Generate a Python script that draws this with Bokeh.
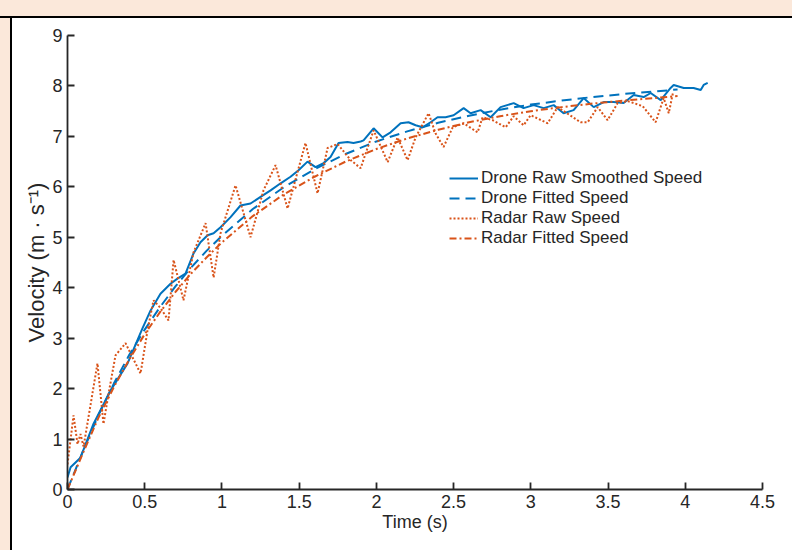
from bokeh.plotting import figure
from bokeh.models import FixedTicker, Legend
from bokeh.embed import file_html
from bokeh.resources import INLINE

# ---- data ----
drone_raw_t = [0, 0.02, 0.084, 0.168, 0.278, 0.389, 0.486, 0.538, 0.602, 0.667, 0.712, 0.764, 0.816,
               0.861, 0.907, 0.946, 0.991, 1.056, 1.12, 1.185, 1.25, 1.315, 1.38, 1.444, 1.496, 1.554,
               1.606, 1.658, 1.703, 1.755, 1.813, 1.852, 1.898, 1.917, 1.982, 2.04, 2.092, 2.157, 2.208,
               2.254, 2.299, 2.351, 2.396, 2.448, 2.5, 2.565, 2.61, 2.675, 2.74, 2.804, 2.889, 2.953,
               3.018, 3.083, 3.148, 3.212, 3.277, 3.342, 3.407, 3.472, 3.536, 3.601, 3.666, 3.731,
               3.776, 3.841, 3.905, 3.925, 3.99, 4.054, 4.1, 4.119, 4.145]
drone_raw_v = [0.24, 0.44, 0.63, 1.3, 1.96, 2.5, 3.2, 3.55, 3.88, 4.08, 4.18, 4.28, 4.68,
               4.9, 5.04, 5.08, 5.2, 5.4, 5.63, 5.67, 5.8, 5.93, 6.07, 6.2, 6.33, 6.5,
               6.39, 6.47, 6.59, 6.87, 6.89, 6.87, 6.9, 6.92, 7.16, 6.98, 7.08, 7.26, 7.28,
               7.22, 7.18, 7.28, 7.38, 7.38, 7.42, 7.56, 7.46, 7.52, 7.38, 7.58, 7.66, 7.56,
               7.62, 7.56, 7.62, 7.46, 7.52, 7.76, 7.58, 7.68, 7.68, 7.66, 7.82, 7.78,
               7.86, 7.72, 7.96, 8.02, 7.96, 7.96, 7.92, 8.02, 8.06]

fit_t = [0, 0.1, 0.2, 0.3, 0.4, 0.5, 0.6, 0.7, 0.8, 0.9, 1.0, 1.2, 1.4, 1.6, 1.8, 2.0,
         2.2, 2.4, 2.6, 2.8, 3.0, 3.2, 3.4, 3.6, 3.8, 3.95]
drone_fit_v = [0, 0.76, 1.47, 2.1, 2.67, 3.17, 3.62, 4.03, 4.4, 4.73, 5.03, 5.56, 5.99, 6.35, 6.65, 6.9,
               7.1, 7.27, 7.41, 7.53, 7.63, 7.71, 7.78, 7.84, 7.89, 7.93]
radar_fit_v = [0, 0.72, 1.42, 2.03, 2.58, 3.08, 3.52, 3.92, 4.28, 4.6, 4.9, 5.42, 5.85, 6.2, 6.5, 6.75,
               6.96, 7.13, 7.28, 7.4, 7.5, 7.58, 7.65, 7.71, 7.76, 7.8]

radar_raw_t = [0, 0.039, 0.065, 0.084, 0.104, 0.194, 0.233, 0.266, 0.311, 0.376, 0.408, 0.473, 0.518,
               0.557, 0.602, 0.654, 0.687, 0.751, 0.816, 0.894, 0.946, 0.991, 1.088, 1.185, 1.269,
               1.347, 1.425, 1.541, 1.619, 1.684, 1.749, 1.833, 1.898, 1.982, 2.073, 2.137, 2.202,
               2.254, 2.338, 2.383, 2.435, 2.494, 2.565, 2.655, 2.688, 2.753, 2.837, 2.889, 2.953,
               2.999, 3.109, 3.174, 3.238, 3.322, 3.368, 3.433, 3.497, 3.562, 3.627, 3.724, 3.808,
               3.86, 3.893, 3.92]
radar_raw_v = [0.5, 1.47, 0.9, 1.1, 0.85, 2.5, 1.3, 1.9, 2.66, 2.9, 2.7, 2.3, 3.15,
               3.75, 3.6, 3.35, 4.55, 3.75, 4.7, 5.28, 4.2, 5.08, 6.03, 5.0, 5.93,
               6.43, 5.57, 6.87, 5.87, 6.77, 6.85, 6.53, 6.37, 7.12, 6.49, 6.98, 6.53,
               6.98, 7.46, 7.06, 6.79, 7.18, 7.26, 7.08, 7.38, 7.32, 7.18, 7.4, 7.22,
               7.42, 7.26, 7.58, 7.45, 7.28, 7.28, 7.58, 7.32, 7.66, 7.7, 7.6, 7.28,
               7.76, 7.46, 7.86]

x_ticks = [0, 0.5, 1, 1.5, 2, 2.5, 3, 3.5, 4, 4.5]
x_tick_labels = ["0", "0.5", "1", "1.5", "2", "2.5", "3", "3.5", "4", "4.5"]
y_ticks = [0, 1, 2, 3, 4, 5, 6, 7, 8, 9]

labels = ["Drone Raw Smoothed Speed", "Drone Fitted Speed", "Radar Raw Speed", "Radar Fitted Speed"]

BLUE = "#0072BD"
ORANGE = "#D95319"
TXT = "#262626"
PEACH = "#fbe8da"
FONT = "Liberation Sans"

p = figure(width=792, height=550, output_backend="svg", toolbar_location=None,
           x_range=(0, 4.5), y_range=(0, 9),
           min_border_left=67, min_border_right=30, min_border_top=35, min_border_bottom=61)
p.outline_line_color = None
p.grid.visible = False
p.background_fill_color = "white"
p.border_fill_alpha = 0

r1 = p.line(drone_raw_t, drone_raw_v, line_color=BLUE, line_width=2)
r2 = p.line(fit_t, drone_fit_v, line_color=BLUE, line_width=2, line_dash="10 6")
r3 = p.line(radar_raw_t, radar_raw_v, line_color=ORANGE, line_width=2, line_dash="2 2")
r4 = p.line(fit_t, radar_fit_v, line_color=ORANGE, line_width=2, line_dash="7 3 2 3")

legend = Legend(items=[(labels[0], [r1]), (labels[1], [r2]), (labels[2], [r3]), (labels[3], [r4])],
                location=(382, 241), padding=0, margin=0, spacing=0,
                glyph_width=29, glyph_height=18, label_height=18, label_standoff=3,
                label_text_font=FONT, label_text_font_size="17px", label_text_color=TXT,
                border_line_alpha=0, background_fill_alpha=0)
p.add_layout(legend, "center")

for ax in (p.xaxis[0], p.yaxis[0]):
    ax.axis_line_color = TXT
    ax.axis_line_width = 1.8
    ax.major_tick_line_color = TXT
    ax.major_tick_line_width = 1.8
    ax.major_tick_in = 7
    ax.major_tick_out = 0
    ax.minor_tick_line_color = None
    ax.major_label_text_font = FONT
    ax.major_label_text_font_size = "18px"
    ax.major_label_text_color = TXT
    ax.axis_label_text_font = FONT
    ax.axis_label_text_font_size = "18px"
    ax.axis_label_text_font_style = "normal"
    ax.axis_label_text_color = TXT

p.xaxis[0].ticker = FixedTicker(ticks=x_ticks)
p.xaxis[0].major_label_overrides = {t: l for t, l in zip(x_ticks, x_tick_labels)}
p.xaxis[0].axis_label = "Time (s)"
p.xaxis[0].major_label_standoff = 5
p.xaxis[0].axis_label_standoff = 1
p.yaxis[0].ticker = FixedTicker(ticks=y_ticks)
p.yaxis[0].axis_label = "Velocity (m \u00b7 s\u207b\u00b9)"
p.yaxis[0].axis_label_text_font_size = "22px"
p.yaxis[0].major_label_standoff = 5
p.yaxis[0].axis_label_standoff = 0

# page sheet: peach strip on top and left, black edge, white below
p.styles = {
    "background-color": "white",
    "background-image": (
        f"linear-gradient(to bottom, {PEACH} 0px, {PEACH} 16px, black 16px, black 18px, transparent 18px),"
        f"linear-gradient(to right, {PEACH} 0px, {PEACH} 10px, black 10px, black 12px, transparent 12px)"
    ),
}

open("out.html", "w").write(file_html(p, INLINE))
